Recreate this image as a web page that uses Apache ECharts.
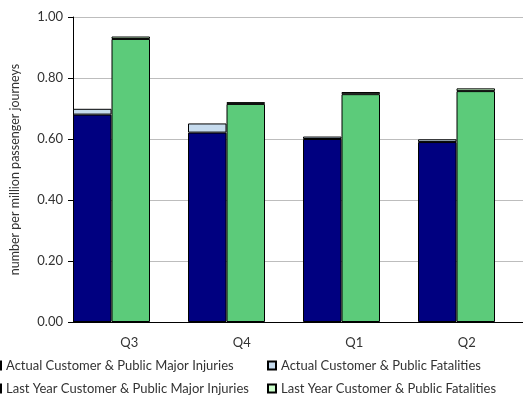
<!DOCTYPE html>
<html>
<head>
<meta charset="utf-8">
<script src="https://cdn.jsdelivr.net/npm/echarts@6/dist/echarts.min.js"></script>
<style>
  html, body { margin: 0; padding: 0; background: #fff; }
  #chart { width: 523px; height: 398px; }
</style>
</head>
<body>
<div id="chart"></div>
<script>
// Quarterly rates, number per million passenger journeys
const quarters = ['Q3', 'Q4', 'Q1', 'Q2'];
const actualMajorInjuries = [0.680, 0.621, 0.600, 0.590];
const actualFatalities = [0.019, 0.030, 0.008, 0.009];
const lastYearMajorInjuries = [0.928, 0.715, 0.747, 0.757];
const lastYearFatalities = [0.008, 0.006, 0.007, 0.009];
const yTicks = [0, 0.2, 0.4, 0.6, 0.8, 1.0];

const FONT = 'Lato, "Open Sans", sans-serif';
const TEXT = '#333333';

const names = [
  'Actual Customer & Public Major Injuries',
  'Actual Customer & Public Fatalities',
  'Last Year Customer & Public Major Injuries',
  'Last Year Customer & Public Fatalities'
];
const colors = ['#000080', '#c6dbee', '#5ccb7a', '#ccffcc'];

function barSeries(i, stack, data) {
  return {
    name: names[i],
    type: 'bar',
    stack: stack,
    xAxisIndex: 1,
    yAxisIndex: 1,
    data: data,
    barWidth: 38.5,
    barGap: '0%',
    itemStyle: { color: colors[i], borderColor: '#000', borderWidth: 1 },
    emphasis: { disabled: true }
  };
}

function legendAt(i, left, top) {
  return {
    data: [names[i]],
    left: left,
    top: top,
    itemWidth: 8,
    itemHeight: 8,
    itemGap: 0,
    padding: 0,
    icon: 'rect',
    textStyle: { fontFamily: FONT, fontSize: 13, color: TEXT }
  };
}

const chart = echarts.init(document.getElementById('chart'), null, { renderer: 'canvas' });
chart.setOption({
  animation: false,
  backgroundColor: '#ffffff',
  grid: [
    // axes, gridlines and quarter labels
    { left: 72, top: 17, width: 460, height: 305, containLabel: false },
    // bar pairs
    { left: 54, top: 17, width: 460, height: 305, containLabel: false }
  ],
  legend: [
    legendAt(0, -8, 359),
    legendAt(1, 267, 359),
    legendAt(2, -8, 382),
    legendAt(3, 267, 382)
  ],
  xAxis: [
    {
      gridIndex: 0,
      type: 'category',
      data: quarters,
      axisLine: { show: true, lineStyle: { color: '#000', width: 1 } },
      axisTick: { show: false },
      axisLabel: { margin: 14, fontFamily: FONT, fontSize: 13, color: TEXT }
    },
    {
      gridIndex: 1,
      type: 'category',
      data: quarters,
      show: false
    }
  ],
  yAxis: [
    {
      gridIndex: 0,
      type: 'value',
      min: 0,
      max: 1,
      interval: 0.2,
      name: 'number per million passenger journeys',
      nameLocation: 'middle',
      nameGap: 52,
      nameTextStyle: { fontFamily: FONT, fontSize: 12.5, color: TEXT },
      axisLine: { show: true, lineStyle: { color: '#000', width: 1 } },
      axisTick: { show: true, length: 5, lineStyle: { color: '#000' } },
      splitLine: { show: true, lineStyle: { color: '#bdbdbd', width: 1 } },
      axisLabel: {
        margin: 10,
        fontFamily: FONT,
        fontSize: 13,
        color: TEXT,
        formatter: v => yTicks.some(t => Math.abs(t - v) < 1e-9) ? v.toFixed(2) : ''
      }
    },
    {
      gridIndex: 1,
      type: 'value',
      min: 0,
      max: 1,
      interval: 0.2,
      show: false,
      splitLine: { show: false }
    }
  ],
  series: [
    barSeries(0, 'actual', actualMajorInjuries),
    barSeries(1, 'actual', actualFatalities),
    barSeries(2, 'lastYear', lastYearMajorInjuries),
    barSeries(3, 'lastYear', lastYearFatalities)
  ]
});
</script>
</body>
</html>
